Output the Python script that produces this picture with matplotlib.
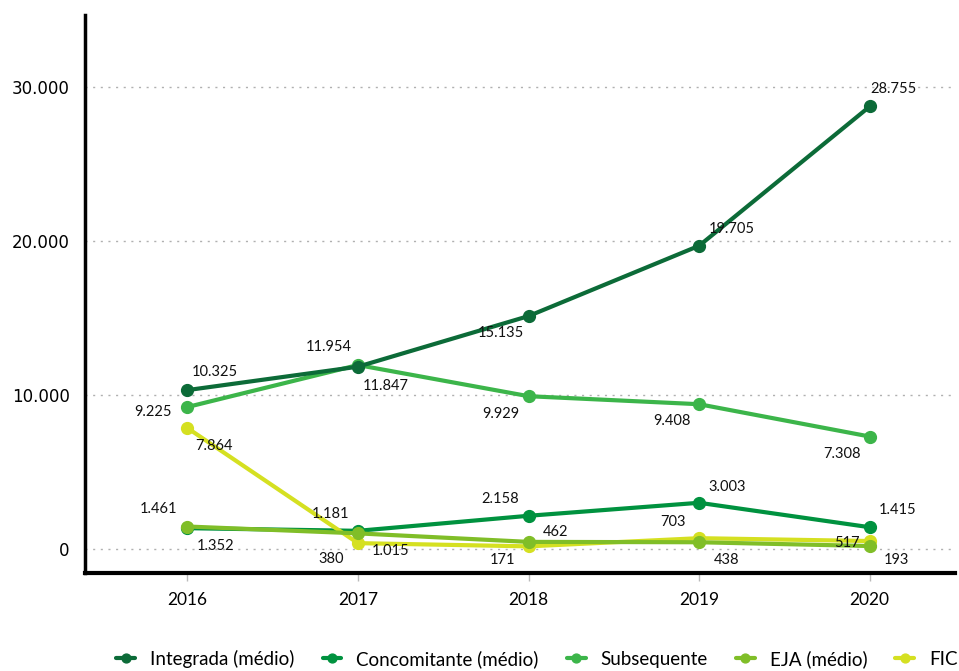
import matplotlib
matplotlib.use('Agg')
import matplotlib.pyplot as plt
from matplotlib.ticker import FuncFormatter

# data
years = [2016, 2017, 2018, 2019, 2020]
integrada = [10325, 11847, 15135, 19705, 28755]
concomitante = [1352, 1181, 2158, 3003, 1415]
subsequente = [9225, 11954, 9929, 9408, 7308]
eja = [1461, 1015, 462, 438, 193]
fic = [7864, 380, 171, 703, 517]

series_names = ["Integrada (médio)", "Concomitante (médio)", "Subsequente", "EJA (médio)", "FIC"]
colors = ["#0c6b38", "#00923f", "#3cb54a", "#80be28", "#d5e021"]

# label offsets in pixels (dx, dy) per point
offsets = {
    "Integrada (médio)": [(27, 18), (28, -19), (-28, -17), (33, 17), (24, 17)],
    "Concomitante (médio)": [(28, -18), (-27, 17), (-28, 17), (28, 16), (28, 17)],
    "Subsequente": [(-34, -5), (-29, 18), (-28, -18), (-27, -17), (-28, -17)],
    "EJA (médio)": [(-29, 18), (33, -18), (27, 10), (27, -18), (27, -14)],
    "FIC": [(27, -18), (-27, -16), (-26, -14), (-26, 16), (-23, -2)],
}

def fmt(v):
    return f"{v:,.0f}".replace(",", ".")

fig = plt.figure(figsize=(9.59, 6.71), dpi=100)
ax = fig.add_axes([85 / 959, 1 - 573 / 671, 870 / 959, (573 - 15) / 671])

data = dict(zip(series_names, [integrada, concomitante, subsequente, eja, fic]))
draw_order = ["Subsequente", "Concomitante (médio)", "FIC", "EJA (médio)", "Integrada (médio)"]
z = {name: i + 3 for i, name in enumerate(draw_order)}

handles = {}
for name, col in zip(series_names, colors):
    vals = data[name]
    h, = ax.plot(years, vals, color=col, lw=3, marker='o', markersize=8.5,
                 zorder=z[name], label=name, solid_capstyle='round')
    handles[name] = h
    for x, v, (dx, dy) in zip(years, vals, offsets[name]):
        ax.annotate(fmt(v), (x, v), xytext=(dx, dy), textcoords='offset pixels',
                    ha='center', va='center', fontsize=10.5, family='Lato',
                    color='#111111', zorder=10)

ax.set_xlim(2015.40, 2020.50)
ax.set_ylim(-1560, 34700)
ax.set_xticks(years)
ax.set_yticks([0, 10000, 20000, 30000])
ax.yaxis.set_major_formatter(FuncFormatter(lambda v, p: fmt(v)))
ax.grid(axis='y', linestyle=(0, (1.5, 4)), color='#b0b0b0', lw=1)
ax.set_axisbelow(True)

for s in ['top', 'right']:
    ax.spines[s].set_visible(False)
ax.spines['left'].set_linewidth(2.5)
ax.spines['bottom'].set_linewidth(3)

ax.tick_params(axis='y', length=0, pad=11, labelsize=12)
ax.tick_params(axis='x', length=6, width=1, color='#bbbbbb', pad=8, labelsize=12.5)
for t in ax.get_xticklabels():
    t.set_family('Lato')
for t in ax.get_yticklabels():
    t.set_family('DejaVu Sans')

leg = fig.legend([handles[n] for n in series_names], series_names,
                 loc='center', bbox_to_anchor=(537 / 959, 1 - 659 / 671), ncol=5,
                 frameon=False, handlelength=1.0, handletextpad=0.8, columnspacing=1.5,
                 prop={'family': 'Lato', 'size': 13.5}, markerscale=0.75)

fig.savefig('out.png', dpi=100)
